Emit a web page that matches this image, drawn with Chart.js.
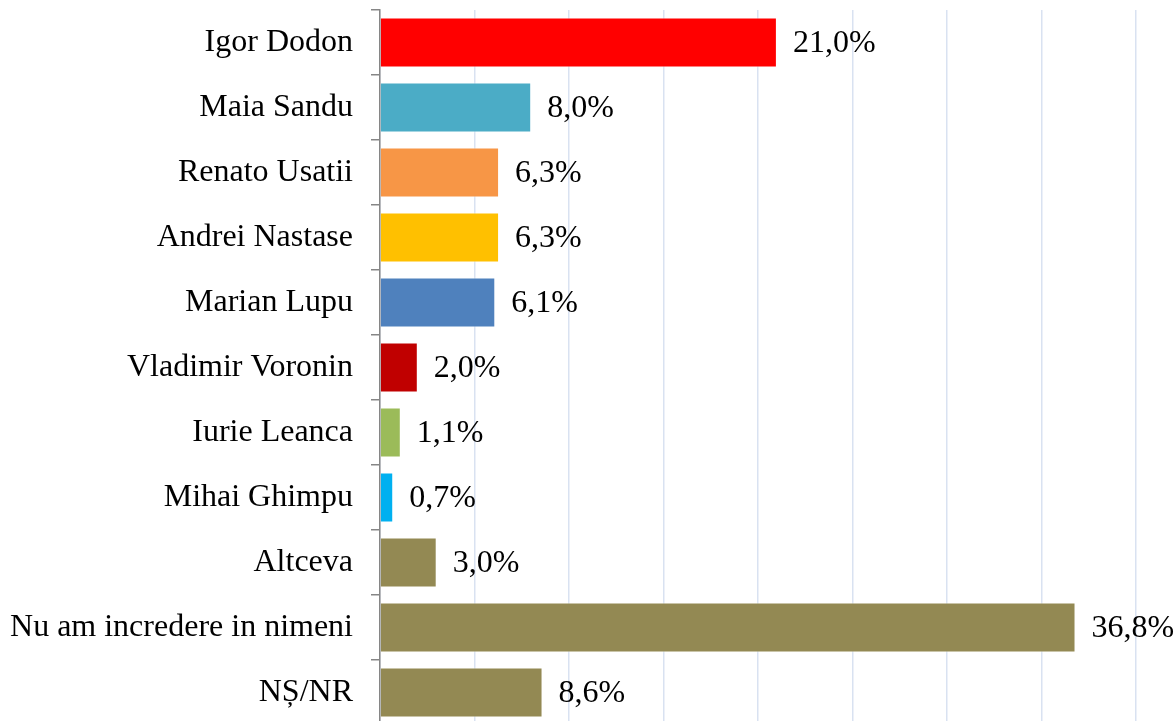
<!DOCTYPE html>
<html>
<head>
<meta charset="utf-8">
<script src="https://cdn.jsdelivr.net/npm/chart.js@4"></script>
<style>
  html, body { margin: 0; padding: 0; background: #fff; overflow: hidden; }
  #wrap { position: absolute; left: 0; top: 0; width: 1174px; height: 725px; }
</style>
</head>
<body>
<div id="wrap"><canvas id="myChart"></canvas></div>
<script>
// categorii si valori (%)
var labels = ["Igor Dodon", "Maia Sandu", "Renato Usatii", "Andrei Nastase", "Marian Lupu",
  "Vladimir Voronin", "Iurie Leanca", "Mihai Ghimpu", "Altceva", "Nu am incredere in nimeni", "NȘ/NR"];
var values = [21.0, 8.0, 6.3, 6.3, 6.1, 2.0, 1.1, 0.7, 3.0, 36.8, 8.6];
var colors = ['#FF0000', '#4BACC6', '#F79646', '#FFC000', '#4F81BD', '#C00000',
  '#9BBB59', '#00B0F0', '#938953', '#938953', '#938953'];
var xTicks = [0, 5, 10, 15, 20, 25, 30, 35, 40];

var fontFam = '"Liberation Serif", "Times New Roman", serif';

// eticheta cu valoarea in dreapta barei
var valueLabels = {
  id: 'valueLabels',
  afterDatasetsDraw: function(chart) {
    var ctx = chart.ctx;
    var meta = chart.getDatasetMeta(0);
    ctx.save();
    ctx.font = '32px ' + fontFam;
    ctx.fillStyle = '#000';
    ctx.textAlign = 'left';
    ctx.textBaseline = 'middle';
    meta.data.forEach(function(bar, i) {
      var txt = values[i].toFixed(1).replace('.', ',') + '%';
      ctx.fillText(txt, bar.x + 16, bar.y + 1);
    });
    ctx.restore();
  }
};

var ctx = document.getElementById("myChart");
var myChart = new Chart(ctx, {
  type: 'bar',
  data: {
    labels: labels,
    datasets: [{
      data: values,
      backgroundColor: colors,
      borderColor: 'rgba(255,255,255,0.6)',
      borderWidth: 1,
      categoryPercentage: 1,
      barPercentage: 0.77
    }]
  },
  options: {
    indexAxis: 'y',
    responsive: true,
    maintainAspectRatio: false,
    animation: false,
    layout: { padding: { top: 10, right: 38, left: 0, bottom: 0 } },
    plugins: {
      legend: { display: false },
      tooltip: { enabled: false }
    },
    scales: {
      x: {
        min: 0,
        max: 40,
        afterBuildTicks: function(scale) {
          scale.ticks = xTicks.map(function(v) { return { value: v }; });
        },
        afterFit: function(scale) {
          scale.height = 0;
          scale.paddingLeft = 0;
          scale.paddingRight = 0;
        },
        ticks: { display: false },
        grid: { color: '#D9E2F1', lineWidth: 1.5, drawTicks: false },
        border: { display: false }
      },
      y: {
        afterFit: function(scale) {
          scale.width = 380;
          scale.paddingTop = 0;
          scale.paddingBottom = 0;
        },
        ticks: {
          color: '#000',
          padding: 18,
          font: { family: fontFam, size: 32 }
        },
        grid: {
          drawOnChartArea: false,
          offset: true,
          tickLength: 9,
          color: '#868686',
          lineWidth: 1.5
        },
        border: { color: '#868686', width: 1.5 }
      }
    }
  },
  plugins: [valueLabels]
});
</script>
</body>
</html>
